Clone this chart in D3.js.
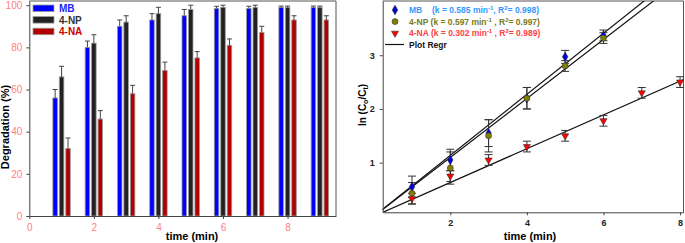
<!DOCTYPE html>
<html>
<head>
<meta charset="utf-8">
<script src="https://cdn.jsdelivr.net/npm/d3@7"></script>
<style>
  body { margin: 0; background: #fff; }
  svg { font-family: "Liberation Sans", Arial, sans-serif; }
</style>
</head>
<body>
<svg id="chart" width="685" height="243"></svg>
<script>
// Data: degradation (%) vs time
const times = [1, 2, 3, 4, 5, 6, 7, 8, 9];
const seriesNames = ["MB", "4-NP", "4-NA"];
const mbDeg = [56, 80, 90, 93, 95, 98.5, 98.5, 99, 99];
const npDeg = [66, 82, 92, 96, 98, 99, 99, 99, 99];
const naDeg = [32, 46, 58, 69, 75, 81, 87, 93, 93];
const mbDegErr = [4, 3, 3, 3, 3, 1, 1, 0.6, 0.6];
const npDegErr = [5, 4, 3, 3, 2, 1, 1, 0.6, 0.6];
const naDegErr = [5, 4, 4, 4, 3, 3, 3, 2, 2];
const degYTicks = [0, 20, 40, 60, 80, 100];
const degXTicks = [0, 2, 4, 6, 8];

// Data: ln(C0/Ct) vs time
const mbT = [1, 2, 3, 4, 5, 6];
const mbLn = [0.55, 1.05, 1.55, 2.2, 2.97, 3.37];
const mbLnErr = [0.2, 0.2, 0.25, 0.2, 0.12, 0.1];
const npT = [1, 2, 3, 4, 5, 6];
const npLn = [0.43, 0.9, 1.5, 2.2, 2.8, 3.32];
const npLnErr = [0.2, 0.3, 0.3, 0.2, 0.1, 0.1];
const naT = [1, 2, 3, 4, 5, 6, 7, 8];
const naLn = [0.33, 0.75, 1.05, 1.3, 1.5, 1.78, 2.3, 2.5];
const naLnErr = [0.1, 0.1, 0.1, 0.1, 0.1, 0.1, 0.1, 0.1];
const regrSlopes = [0.568, 0.549, 0.315]; // lines as drawn in the figure
const kLabels = ["0.585", "0.597", "0.302"];
const r2Labels = ["0.998", "0.997", "0.989"];
const lnYTicks = [1, 2, 3];
const lnXTicks = [2, 4, 6, 8];

const svg = d3.select("#chart");
const axisColor = "#444";

// ---------------- Left: bar chart ----------------
const x1 = d3.scaleLinear().domain([0, 9.5]).range([29.3, 336]);
const y1 = d3.scaleLinear().domain([0, 102]).range([216, 1]);
const barColors = ["#0000ff", "#222222", "#b00000"];
const barOffsets = [-0.2, 0, 0.2];
const barW = x1(0.14) - x1(0);
const degSeries = [mbDeg, npDeg, naDeg];
const degErrs = [mbDegErr, npDegErr, naDegErr];

const left = svg.append("g");

// frame (top + right)
left.append("path")
  .attr("d", `M${x1(0)},${y1(102)}H${x1(9.5)}V${y1(0)}`)
  .attr("fill", "none").attr("stroke", "#555").attr("stroke-width", 1);

degSeries.forEach((vals, s) => {
  const g = left.append("g");
  g.selectAll("rect").data(times).join("rect")
    .attr("x", (t) => x1(t + barOffsets[s]) - barW / 2)
    .attr("y", (t, i) => y1(vals[i]))
    .attr("width", barW)
    .attr("height", (t, i) => y1(0) - y1(vals[i]))
    .attr("fill", barColors[s])
    .attr("stroke", "#999").attr("stroke-width", 0.8);
  // upper error bars
  g.selectAll("path.err").data(times).join("path")
    .attr("class", "err")
    .attr("d", (t, i) => {
      const cx = x1(t + barOffsets[s]);
      const top = y1(vals[i] + degErrs[s][i]);
      return `M${cx},${y1(vals[i])}V${top}M${cx - 2.5},${top}H${cx + 2.5}`;
    })
    .attr("fill", "none").attr("stroke", "#444").attr("stroke-width", 1);
});

const xAxis1 = left.append("g")
  .attr("transform", `translate(0,${y1(0)})`)
  .call(d3.axisBottom(x1).tickValues(degXTicks).tickSize(3).tickPadding(5).tickSizeOuter(0));
const yAxis1 = left.append("g")
  .attr("transform", `translate(${x1(0)},0)`)
  .call(d3.axisLeft(y1).tickValues(degYTicks).tickSize(3).tickPadding(4).tickSizeOuter(0));
[xAxis1, yAxis1].forEach((a) => {
  a.select(".domain").attr("stroke", axisColor);
  a.selectAll(".tick line").attr("stroke", axisColor);
  a.selectAll("text").attr("fill", "#ff8080").attr("font-size", 10)
    .style("font-family", "'Liberation Sans', Arial, sans-serif");
});

left.append("text")
  .attr("x", 192).attr("y", 240)
  .attr("text-anchor", "middle").attr("font-size", 11).attr("font-weight", "bold")
  .text("time (min)");
left.append("text")
  .attr("transform", "translate(9,127) rotate(-90)")
  .attr("text-anchor", "middle").attr("font-size", 11).attr("font-weight", "bold")
  .text("Degradation (%)");

// legend
const leg1Colors = ["#2222ff", "#333333", "#cc0000"];
seriesNames.forEach((name, s) => {
  const yy = 5 + s * 11.6;
  left.append("rect")
    .attr("x", 33).attr("y", yy).attr("width", 21).attr("height", 6.5)
    .attr("fill", barColors[s]).attr("stroke", "#999").attr("stroke-width", 0.8);
  left.append("text")
    .attr("x", 59).attr("y", yy + 7)
    .attr("font-size", 10).attr("font-weight", "bold")
    .attr("fill", leg1Colors[s])
    .text(name);
});

// ---------------- Right: kinetics ----------------
const x2 = d3.scaleLinear().domain([0.235, 8.09]).range([382.7, 683.5]);
const y2 = d3.scaleLinear().domain([0.076, 4.01]).range([212.3, 1]);
const right = svg.append("g");

right.append("clipPath").attr("id", "clipR")
  .append("rect")
  .attr("x", x2(0.235)).attr("y", y2(4.01))
  .attr("width", x2(8.09) - x2(0.235)).attr("height", y2(0.076) - y2(4.01));

right.append("path")
  .attr("d", `M${x2(0.235)},${y2(4.01)}H${x2(8.09)}V${y2(0.076)}`)
  .attr("fill", "none").attr("stroke", "#555").attr("stroke-width", 1);

// regression lines
const lineGen = d3.line().x((d) => x2(d[0])).y((d) => y2(d[1]));
right.append("g").attr("clip-path", "url(#clipR)")
  .selectAll("path").data(regrSlopes).join("path")
  .attr("d", (k) => lineGen([[0, 0], [8.2, 8.2 * k]]))
  .attr("fill", "none").attr("stroke", "#111").attr("stroke-width", 1.2);

const lnSeries = [
  { t: mbT, v: mbLn, e: mbLnErr, fill: "#0000dd", sym: d3.symbolDiamond, size: 26, rot: 0 },
  { t: npT, v: npLn, e: npLnErr, fill: "#808000", sym: d3.symbolCircle, size: 28, rot: 0 },
  { t: naT, v: naLn, e: naLnErr, fill: "#ff0000", sym: d3.symbolTriangle, size: 22, rot: 180 },
];

// error bars
lnSeries.forEach((s) => {
  right.append("g").selectAll("path").data(s.t).join("path")
    .attr("d", (t, i) => {
      const cx = x2(t);
      const lo = y2(s.v[i] - s.e[i]);
      const hi = y2(s.v[i] + s.e[i]);
      return `M${cx},${lo}V${hi}M${cx - 4},${lo}H${cx + 4}M${cx - 4},${hi}H${cx + 4}`;
    })
    .attr("fill", "none").attr("stroke", "#333").attr("stroke-width", 1);
});
// markers
lnSeries.forEach((s) => {
  right.append("g").selectAll("path").data(s.t).join("path")
    .attr("transform", (t, i) => `translate(${x2(t)},${y2(s.v[i])}) rotate(${s.rot})`)
    .attr("d", d3.symbol().type(s.sym).size(s.size))
    .attr("fill", s.fill).attr("stroke", "#333").attr("stroke-width", 0.6);
});

const xAxis2 = right.append("g")
  .attr("transform", `translate(0,${y2(0.076)})`)
  .call(d3.axisBottom(x2).tickValues(lnXTicks).tickFormat(d3.format("d"))
    .tickSize(3).tickPadding(4).tickSizeOuter(0));
const yAxis2 = right.append("g")
  .attr("transform", `translate(${x2(0.235)},0)`)
  .call(d3.axisLeft(y2).tickValues(lnYTicks).tickFormat(d3.format("d"))
    .tickSize(3).tickPadding(5).tickSizeOuter(0));
[xAxis2, yAxis2].forEach((a) => {
  a.select(".domain").attr("stroke", axisColor);
  a.selectAll(".tick line").attr("stroke", axisColor);
  a.selectAll("text").attr("fill", "#222").attr("font-size", 9).attr("font-weight", "bold")
    .style("font-family", "'Liberation Sans', Arial, sans-serif");
});

right.append("text")
  .attr("x", 530).attr("y", 240)
  .attr("text-anchor", "middle").attr("font-size", 11).attr("font-weight", "bold")
  .text("time (min)");
const yl = right.append("text")
  .attr("transform", "translate(366,105) rotate(-90)")
  .attr("text-anchor", "middle").attr("font-size", 10).attr("font-weight", "bold");
yl.append("tspan").text("ln (C");
yl.append("tspan").attr("font-size", 7).attr("dy", 2).text("o");
yl.append("tspan").attr("dy", -2).text("/C");
yl.append("tspan").attr("font-size", 7).attr("dy", 2).text("t");
yl.append("tspan").attr("dy", -2).text(")");

// legend
const leg2Colors = ["#3399ff", "#7a7a20", "#ff4040"];
const leg2Names = ["MB", "4-NP", "4-NA"];
lnSeries.forEach((s, i) => {
  const yy = 10 + i * 11.6;
  right.append("path")
    .attr("transform", `translate(395,${yy}) rotate(${s.rot})`)
    .attr("d", d3.symbol().type(s.sym).size(s.size))
    .attr("fill", s.fill).attr("stroke", "#333").attr("stroke-width", 0.6);
  const t = right.append("text")
    .attr("x", 409).attr("y", yy + 3.2)
    .attr("font-size", 8.5).attr("font-weight", "bold").attr("fill", leg2Colors[i])
    .attr("xml:space", "preserve");
  if (i === 0) {
    t.append("tspan").text(leg2Names[i]);
    t.append("tspan").attr("x", 432).text(`(k = ${kLabels[i]} min`);
  } else {
    t.append("tspan").text(`${leg2Names[i]} (k = ${kLabels[i]} min`);
  }
  t.append("tspan").attr("font-size", 6).attr("dy", -3).text("-1");
  t.append("tspan").attr("dy", 3).text(i === 0 ? ", R" : " , R");
  t.append("tspan").attr("font-size", 6).attr("dy", -3).text("2");
  t.append("tspan").attr("dy", 3).text(`= ${r2Labels[i]})`);
});
right.append("line")
  .attr("x1", 385).attr("x2", 404).attr("y1", 44.5).attr("y2", 44.5)
  .attr("stroke", "#111").attr("stroke-width", 1.2);
right.append("text")
  .attr("x", 409).attr("y", 47.5)
  .attr("font-size", 8.5).attr("font-weight", "bold").attr("fill", "#111")
  .text("Plot Regr");
</script>
</body>
</html>
